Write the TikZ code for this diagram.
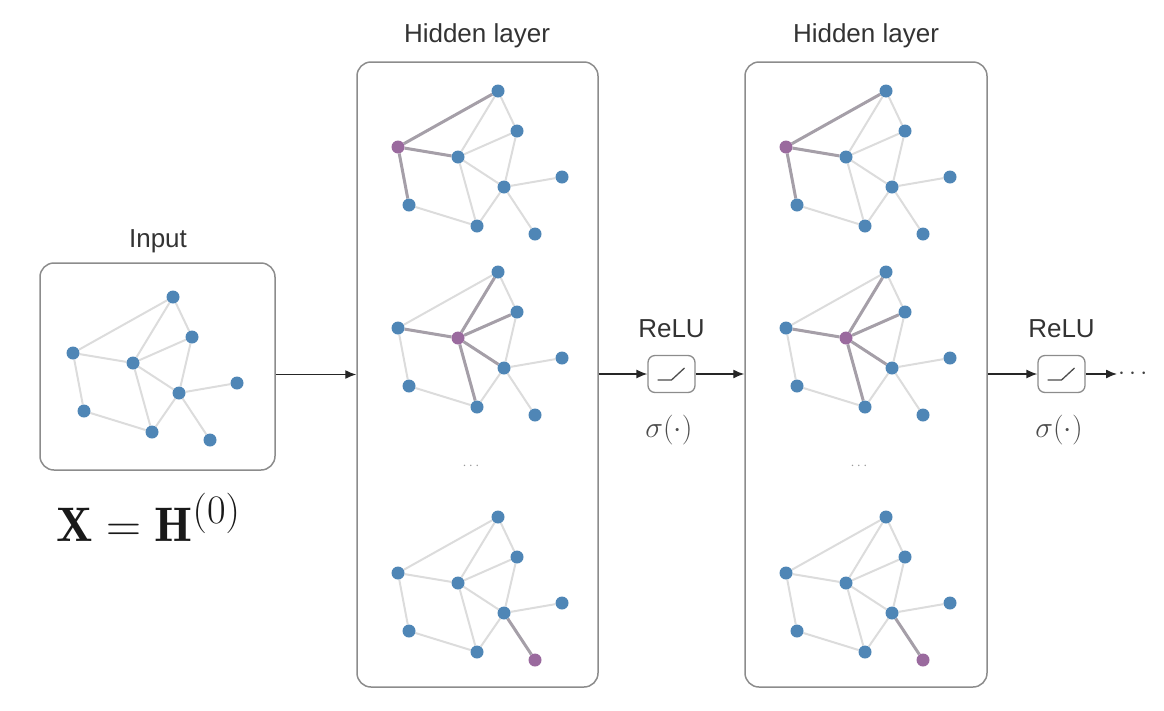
\documentclass[tikz,border=0pt]{standalone}
\usepackage{fontspec}
\usepackage{graphicx}
\newfontfamily\labfont{Liberation Sans}
\usetikzlibrary{arrows.meta,backgrounds}
\definecolor{nodeblue}{HTML}{4F86B6}
\definecolor{nodepurple}{HTML}{9A6A9E}
\definecolor{edgelight}{HTML}{DCDCDC}
\definecolor{edgedark}{HTML}{A59FA8}
\definecolor{boxgray}{HTML}{8C8C8C}
\definecolor{txt}{HTML}{333333}
\tikzset{
  gn/.style={circle, fill=nodeblue, minimum size=13pt, inner sep=0pt},
  ge/.style={edgelight, line width=2pt},
  gh/.style={edgedark, line width=3pt},
  layerbox/.style={draw=boxgray, line width=1.5pt, rounded corners=14pt, inner sep=0pt},
  arr/.style={-{Latex[length=11pt,width=9pt]}, line width=1.3pt, black!85},
  relubox/.style={draw=boxgray, line width=1.3pt, rounded corners=7pt, minimum width=47pt, minimum height=37pt, inner sep=0pt},
  lab/.style={text=txt, font=\labfont\fontsize{26}{30}\selectfont},
}
\newcommand\gnet[4]{%
 \begin{scope}[shift={(#2,#3)}, hl #4/.style={fill=nodepurple}]
  \foreach \n/\px/\py in {A/173/297,B/192/337,C/73/353,D/133/363,E/179/393,F/237/383,G/84/411,H/152/432,I/210/440}
   {\edef\gtmp{\noexpand\node[gn, hl \n/.try] (#1\n) at (\px,\py) {};}\gtmp}
 \end{scope}
 \begin{pgfonlayer}{background}
  \foreach \u/\v in {A/C,A/D,A/B,B/D,B/E,C/D,C/G,D/E,D/H,E/F,E/H,E/I,G/H}
   {\draw[ge] (#1\u) -- (#1\v);}
 \end{pgfonlayer}}
\newcommand\hledges[2]{%
 \begin{pgfonlayer}{background}
  \foreach \u/\v in {#2} {\draw[gh] (#1\u) -- (#1\v);}
 \end{pgfonlayer}}
\begin{document}
\begin{tikzpicture}[x=1pt, y=-1pt]
\useasboundingbox (0,0) rectangle (1164,710);

% boxes
\node[layerbox, minimum width=235pt, minimum height=207pt] (inbox) at (157.5,366.5) {};
\node[layerbox, minimum width=241pt, minimum height=625pt] (h1) at (477.5,374.5) {};
\node[layerbox, minimum width=242pt, minimum height=625pt] (h2) at (866,374.5) {};

% labels
\node[lab, anchor=base] (tin) at (158,247) {Input};
\node[lab, anchor=base] (th1) at (477,42) {Hidden layer};
\node[lab, anchor=base] (th2) at (866,42) {Hidden layer};
\node[anchor=base west, inner sep=0pt, text=black!90] (formula) at (56,541) {\scalebox{1.95}{\Huge$\mathbf{X}=\mathbf{H}^{(0)}$}};

% graphs
\gnet{gi}{0}{0}{none}
\gnet{ga}{325}{-206}{C}
\hledges{ga}{C/A,C/D,C/G}
\gnet{gb}{325}{-25}{D}
\hledges{gb}{D/A,D/B,D/C,D/E,D/H}
\gnet{gc}{325}{220}{I}
\hledges{gc}{E/I}
\gnet{gd}{713}{-206}{C}
\hledges{gd}{C/A,C/D,C/G}
\gnet{ge}{713}{-25}{D}
\hledges{ge}{D/A,D/B,D/C,D/E,D/H}
\gnet{gf}{713}{220}{I}
\hledges{gf}{E/I}

% inner dots
\node[text=black!40] (d1) at (471,466) {\Large$\cdots$};
\node[text=black!40] (d2) at (859,466) {\Large$\cdots$};

% relu boxes
\node[relubox] (r1) at (671.5,374) {};
\node[relubox] (r2) at (1061.5,374) {};
\foreach \r in {r1,r2}{
  \draw[line width=1.3pt, black!70] (\r.center) ++(-14,6) -- ++(14,0) -- ++(13,-12);
}
\node[lab, anchor=base] (tr1) at (671.5,337) {ReLU};
\node[lab, anchor=base] (tr2) at (1061.5,337) {ReLU};
\node[text=black!70, anchor=base] (s1) at (669,437) {\scalebox{1.2}{\Huge$\sigma(\cdot)$}};
\node[text=black!70, anchor=base] (s2) at (1059,437) {\scalebox{1.2}{\Huge$\sigma(\cdot)$}};

% output dots
\node[text=black!75, anchor=west, inner sep=1pt] (odots) at (1117,374) {\Huge$\cdots$};

% arrows
\draw[arr] (inbox.east |- h1.west) -- (h1.west);
\draw[arr] (h1.east |- r1.west) -- (r1.west);
\draw[arr] (r1.east) -- (h2.west |- r1.east);
\draw[arr] (h2.east |- r2.west) -- (r2.west);
\draw[arr] (r2.east) -- (odots.west |- r2.east);
\end{tikzpicture}
\end{document}
